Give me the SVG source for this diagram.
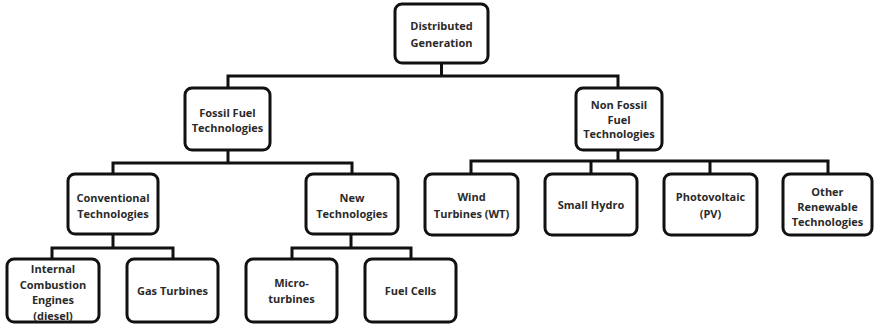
<svg xmlns="http://www.w3.org/2000/svg" width="874" height="324" viewBox="0 0 874 324">
<style>
.box{fill:#fff;stroke:#111;stroke-width:3;}
.t{font-family:"Open Sans","Liberation Sans",sans-serif;font-weight:bold;font-size:11px;fill:#2a2a2a;text-anchor:middle;dominant-baseline:central;}
.c{fill:none;stroke:#111;stroke-width:3;stroke-linecap:square;}
</style>
<rect width="874" height="324" fill="#fff"/>
<g id="connectors">
<path class="c" d="M441.5 63V76M228 76H618M228 76V88M618 76V88"/>
<path class="c" d="M228 150V163M113 163H352M113 163V174M352 163V174"/>
<path class="c" d="M618 150V161M471 161H828M471 161V174M591 161V174M710 161V174M828 161V174"/>
<path class="c" d="M113 234V248M52 248H173M52 248V259M173 248V259"/>
<path class="c" d="M351 234V248M292 248H411M292 248V259M411 248V259"/>
</g>
<g id="root"><rect class="box" x="395" y="4" width="93" height="59" rx="7"/><text class="t" x="441.5" y="25">Distributed</text><text class="t" x="441.5" y="42">Generation</text></g>
<g id="fossil"><rect class="box" x="185" y="88" width="85" height="62" rx="7"/><text class="t" x="227.5" y="112">Fossil Fuel</text><text class="t" x="227.5" y="127">Technologies</text></g>
<g id="nonfossil"><rect class="box" x="576" y="88" width="86" height="62" rx="7"/><text class="t" x="619" y="104">Non Fossil</text><text class="t" x="619" y="119">Fuel</text><text class="t" x="619" y="133">Technologies</text></g>
<g id="conventional"><rect class="box" x="68" y="174" width="90" height="60" rx="7"/><text class="t" x="113" y="197">Conventional</text><text class="t" x="113" y="213">Technologies</text></g>
<g id="newtech"><rect class="box" x="306" y="174" width="92" height="60" rx="7"/><text class="t" x="352" y="197">New</text><text class="t" x="352" y="213">Technologies</text></g>
<g id="wind"><rect class="box" x="425" y="174" width="93" height="61" rx="7"/><text class="t" x="471.5" y="196">Wind</text><text class="t" x="471.5" y="213">Turbines (WT)</text></g>
<g id="smallhydro"><rect class="box" x="545" y="174" width="92" height="61" rx="7"/><text class="t" x="591" y="204">Small Hydro</text></g>
<g id="photovoltaic"><rect class="box" x="664" y="174" width="93" height="61" rx="7"/><text class="t" x="710.5" y="196">Photovoltaic</text><text class="t" x="710.5" y="213">(PV)</text></g>
<g id="other"><rect class="box" x="783" y="174" width="89" height="61" rx="7"/><text class="t" x="827.5" y="191">Other</text><text class="t" x="827.5" y="206">Renewable</text><text class="t" x="827.5" y="221">Technologies</text></g>
<g id="internal"><rect class="box" x="7" y="259" width="92" height="63" rx="7"/><text class="t" x="53" y="268">Internal</text><text class="t" x="53" y="284">Combustion</text><text class="t" x="53" y="299">Engines</text><text class="t" x="53" y="315">(diesel)</text></g>
<g id="gasturbines"><rect class="box" x="127" y="259" width="91" height="63" rx="7"/><text class="t" x="172.5" y="290">Gas Turbines</text></g>
<g id="microturbines"><rect class="box" x="246" y="259" width="91" height="63" rx="7"/><text class="t" x="291.5" y="282">Micro-</text><text class="t" x="291.5" y="298">turbines</text></g>
<g id="fuelcells"><rect class="box" x="365" y="259" width="91" height="63" rx="7"/><text class="t" x="410.5" y="290">Fuel Cells</text></g>
</svg>
